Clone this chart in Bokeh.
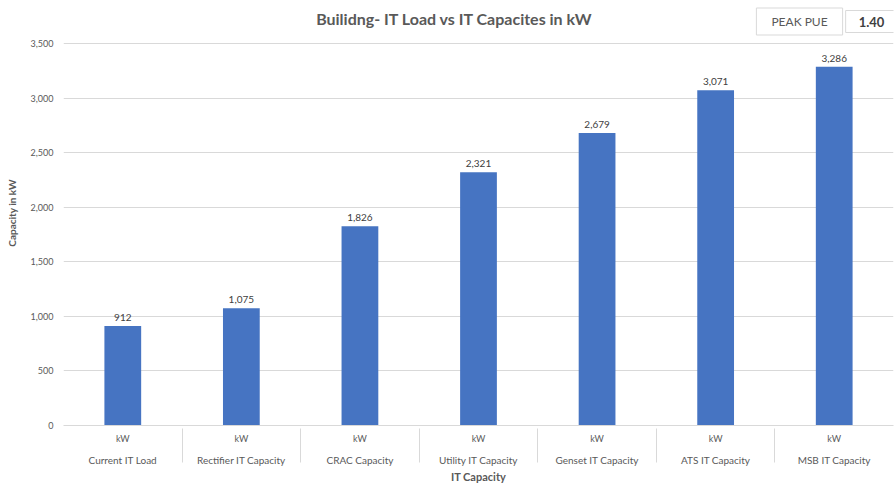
from bokeh.plotting import figure
from bokeh.models import FactorRange, ColumnDataSource, NumeralTickFormatter, FixedTicker, Label, LabelSet, Range1d
from bokeh.core.properties import value
from bokeh.embed import file_html
from bokeh.resources import INLINE

categories = ["Current IT Load", "Rectifier IT Capacity", "CRAC Capacity", "Utility IT Capacity",
              "Genset IT Capacity", "ATS IT Capacity", "MSB IT Capacity"]
units = ["kW", "kW", "kW", "kW", "kW", "kW", "kW"]
values = [912, 1075, 1826, 2321, 2679, 3071, 3286]
y_ticks = [0, 500, 1000, 1500, 2000, 2500, 3000, 3500]
title_text = "Builidng- IT Load vs IT Capacites in kW"
pue_label = "PEAK PUE"
pue_value = "1.40"

FONT = "Lato"
GREY = "#595959"

W, H = 896, 485
LEFT, BOTTOM = 63, 60
FRAME_H = H - BOTTOM          # frame spans canvas y 0..425
TOP_GRID_PX = 43              # canvas y of the 3,500 gridline
y_end = y_ticks[-1] * FRAME_H / (FRAME_H - TOP_GRID_PX)

factors = list(zip(categories, units))
src = ColumnDataSource(dict(x=factors, top=values, label=[f"{v:,}" for v in values]))

p = figure(width=W, height=H,
           x_range=FactorRange(*factors, group_padding=0, range_padding=0, factor_padding=0),
           y_range=Range1d(0, y_end),
           output_backend="svg", toolbar_location=None,
           min_border_left=LEFT, min_border_right=3, min_border_top=0, min_border_bottom=BOTTOM)

p.vbar(x="x", top="top", width=0.31, source=src, fill_color="#4674C2", line_color=None)

labels = LabelSet(x="x", y="top", text="label", source=src, y_offset=5,
                  text_align="center", text_baseline="bottom",
                  text_font=value(FONT), text_font_size=value("10px"), text_color="#404040")
p.add_layout(labels)

p.outline_line_color = None
p.xgrid.grid_line_color = None
p.ygrid.grid_line_color = "#d9d9d9"
p.ygrid.ticker = FixedTicker(ticks=y_ticks)

p.yaxis.ticker = FixedTicker(ticks=y_ticks)
p.yaxis.formatter = NumeralTickFormatter(format="0,0")
p.yaxis.axis_line_color = None
p.yaxis.major_tick_line_color = None
p.yaxis.minor_tick_line_color = None
p.yaxis.major_tick_out = 0
p.yaxis.major_label_standoff = 10
p.yaxis.major_label_text_font = FONT
p.yaxis.major_label_text_font_size = "9px"
p.yaxis.major_label_text_color = GREY
p.yaxis.axis_label = "Capacity in kW"
p.yaxis.axis_label_text_font = FONT
p.yaxis.axis_label_text_font_size = "10px"
p.yaxis.axis_label_text_font_style = "bold"
p.yaxis.axis_label_text_color = GREY
p.yaxis.axis_label_standoff = 10

p.xaxis.axis_line_color = "#d9d9d9"
p.xaxis.major_tick_line_color = None
p.xaxis.major_tick_out = 0
p.xaxis.major_label_standoff = 7
p.xaxis.major_label_text_font = FONT
p.xaxis.major_label_text_font_size = "9px"
p.xaxis.major_label_text_color = GREY
p.xaxis.group_text_font = FONT
p.xaxis.group_text_font_size = "10px"
p.xaxis.group_text_color = GREY
p.xaxis.group_text_font_style = "normal"
p.xaxis.separator_line_color = "#d9d9d9"
p.xaxis.separator_line_width = 1
p.xaxis.axis_label = "IT Capacity"
p.xaxis.axis_label_text_font = FONT
p.xaxis.axis_label_text_font_size = "11px"
p.xaxis.axis_label_text_font_style = "bold"
p.xaxis.axis_label_text_color = GREY
p.xaxis.axis_label_standoff = 1

# screen units are measured from the frame's left / bottom edges
title = Label(x=454 - LEFT, y=FRAME_H - 18, x_units="screen", y_units="screen", text=title_text,
              text_font=FONT, text_font_size="16px", text_font_style="bold", text_color=GREY,
              text_align="center", text_baseline="middle")
# padding given as (horizontal, vertical)
pue1 = Label(x=799 - LEFT, y=FRAME_H - 21, x_units="screen", y_units="screen", text=pue_label,
             text_font=FONT, text_font_size="12px", text_color=GREY,
             text_align="center", text_baseline="middle",
             padding=(15, 6), border_line_color="#d9d9d9", background_fill_color="white")
pue2 = Label(x=871 - LEFT, y=FRAME_H - 21, x_units="screen", y_units="screen", text=pue_value,
             text_font=FONT, text_font_size="13px", text_font_style="bold", text_color="#404040",
             text_align="center", text_baseline="middle",
             padding=(13, 6), border_line_color="#d9d9d9", background_fill_color="white")
p.add_layout(title)
p.add_layout(pue1)
p.add_layout(pue2)

open("out.html", "w").write(file_html(p, INLINE))
